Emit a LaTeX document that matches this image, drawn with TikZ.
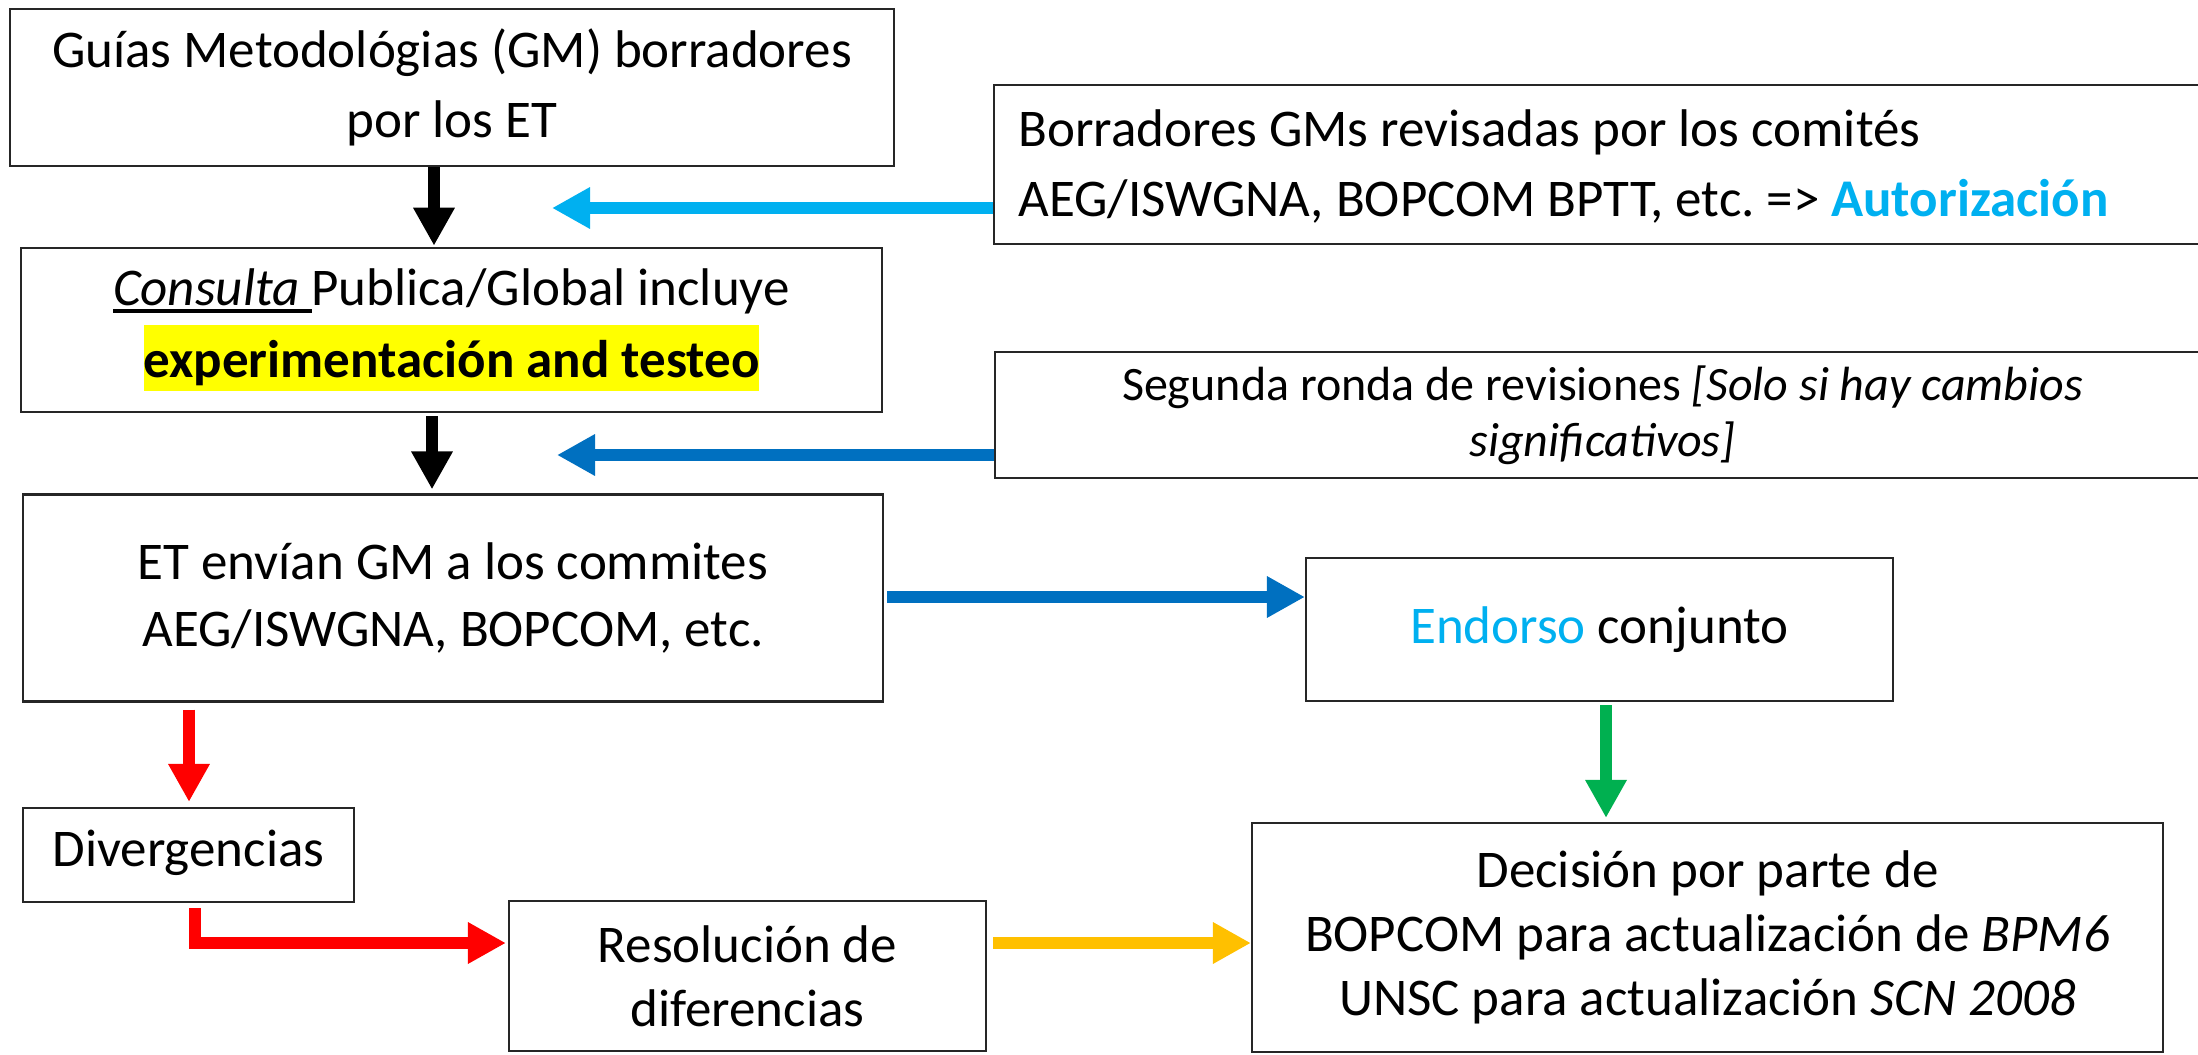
\documentclass[tikz,border=0pt]{standalone}
\usepackage{fontspec}
\setmainfont{Carlito}
\usetikzlibrary{arrows.meta}
\definecolor{cyanA}{HTML}{00B0F0}
\definecolor{blueA}{HTML}{0070C0}
\definecolor{redA}{HTML}{FF0000}
\definecolor{greenA}{HTML}{00B050}
\definecolor{yellA}{HTML}{FFC000}
\definecolor{hiA}{HTML}{FFFF00}
\frenchspacing
\newcommand\ulword[1]{\setbox0\hbox{#1}\makebox[0pt][l]{\rule[-3.6pt]{\wd0}{2pt}}\box0}
\tikzset{
  boxA/.style={draw=black!85, line width=1.1pt, inner sep=0pt, align=center, fill=white},
  fnt/.style={font=\fontsize{26.5}{#1}\selectfont},
  blockarrow/.style={line width=6.3pt, line join=miter, line cap=butt,
     -{Triangle[width=19.5pt,length=19pt]}},
}
\begin{document}
\begin{tikzpicture}[x=0.5pt,y=-0.5pt]
\useasboundingbox (0,0) rectangle (2198,1054);
\clip (0,0) rectangle (2198,1054);
\fill[white] (0,0) rectangle (2198,1054);

% boxes
\node[boxA, fnt=35pt, minimum width=442pt, minimum height=78.5pt] (gm) at (452,87.5)
  {Guías Metodológias (GM) borradores\\por los ET};
\node[boxA, minimum width=608pt, minimum height=79.5pt] (borr) at (1602,164.5) {};
\node[fnt=35pt, align=left, anchor=west, inner sep=0pt] (borrt) at (1018,166)
  {Borradores GMs revisadas por los comités\\AEG/ISWGNA, BOPCOM BPTT, etc. => \textcolor{cyanA}{\bfseries Autorización}};
\node[boxA, fnt=36pt, minimum width=430.5pt, minimum height=82pt] (cons) at (451.5,330)
  {\ulword{\textit{Consulta}\ }Publica/Global incluye\\
   {\setlength\fboxsep{0pt}\colorbox{hiA}{\rule[-6.5pt]{0pt}{33pt}\bfseries experimentación and testeo}}};
\node[boxA, font=\fontsize{24}{28}\selectfont, minimum width=607.5pt, minimum height=63pt] (seg) at (1602.5,415)
  {Segunda ronda de revisiones \textit{[Solo si hay cambios}\\\textit{significativos]}};
\node[boxA, fnt=33.5pt, minimum width=430pt, minimum height=103.5pt] (et) at (453,598)
  {ET envían GM a los commites\\AEG/ISWGNA, BOPCOM, etc.};
\node[boxA, fnt=31pt, minimum width=293.5pt, minimum height=71.5pt] (end) at (1599.5,629.5)
  {\textcolor{cyanA}{Endorso} conjunto};
\node[boxA, fnt=31pt, text height=17pt, text depth=6pt, minimum width=165.5pt, minimum height=47pt] (div) at (188.5,855)
  {Divergencias};
\node[boxA, fnt=32pt, minimum width=238.5pt, minimum height=75pt] (res) at (747.5,976)
  {Resolución de\\diferencias};
\node[boxA, fnt=32pt, minimum width=455.5pt, minimum height=114.5pt] (dec) at (1707.5,937.5)
  {Decisión por parte de\\BOPCOM para actualización de \textit{BPM6}\\UNSC para actualización \textit{SCN 2008}};

% helper coordinates
\coordinate (xa) at (434,0);
\coordinate (xb) at (432,0);
\coordinate (ycy) at (0,208);
\coordinate (cyt) at (552,208);
\coordinate (ybl) at (0,455);
\coordinate (blt) at (557,455);
\coordinate (yet) at (0,597);
\coordinate (xg) at (1606,0);
\coordinate (xr) at (189,0);
\coordinate (xr2) at (195,0);
\coordinate (yr) at (0,943);

% arrows
\draw[blockarrow, black, shorten >=0.6pt] (gm.south -| xa) -- (cons.north -| xa);
\draw[blockarrow, black, shorten <=1.5pt, shorten >=2pt] (cons.south -| xb) -- (et.north -| xb);
\draw[blockarrow, cyanA] (borr.west |- ycy) -- (cyt);
\draw[blockarrow, blueA] (seg.west |- ybl) -- (blt);
\draw[blockarrow, blueA, shorten <=1.5pt] (et.east |- yet) -- (end.west |- yet);
\draw[blockarrow, greenA, shorten <=1.5pt, shorten >=2pt] (end.south -| xg) -- (dec.north -| xg);
\draw[blockarrow, redA, shorten <=3.5pt, shorten >=2.5pt] (et.south -| xr) -- (div.north -| xr);
\draw[blockarrow, redA, shorten <=2.5pt, shorten >=1pt] (div.south -| xr2) |- (res.west |- yr);
\draw[blockarrow, yellA, shorten <=3pt] (res.east |- yr) -- (dec.west |- yr);
\end{tikzpicture}
\end{document}
